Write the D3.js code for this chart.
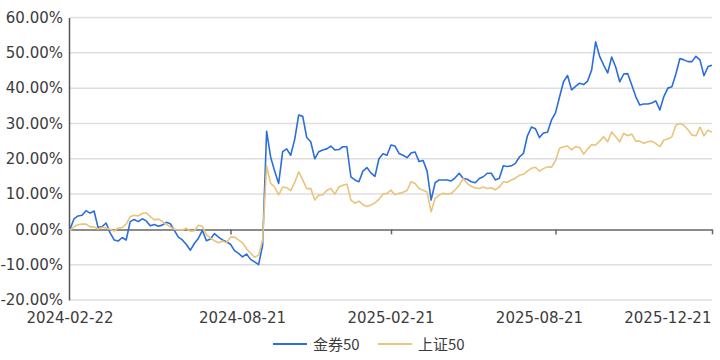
<!DOCTYPE html>
<html><head><meta charset="utf-8">
<script src="https://cdn.jsdelivr.net/npm/d3@7"></script>
<style>
html,body{margin:0;padding:0;background:#fff;}
svg text{font-family:"DejaVu Sans","Noto Sans CJK SC",sans-serif;}
</style></head>
<body><svg id="c" width="720" height="360"></svg>
<script>
const seriesNames = ["金券50", "上证50"];
const colors = ["#2c6ddd", "#e8c47c"];
const yTicks = [-20, -10, 0, 10, 20, 30, 40, 50, 60];
const xLabels = ["2024-02-22", "2024-08-21", "2025-02-21", "2025-08-21", "2025-12-21"];
const xLabelIdx = [0, 43, 80, 117, 149];
const xTickIdx = [40, 80, 121, 160];

const jinquan = [
0,3.0,3.8,4.0,5.3,4.6,5.2,0.5,0.8,1.8,-1.0,-3.0,-3.3,-2.3,-3.0,2.2,2.8,2.2,3.0,2.4,
1.0,1.4,0.9,1.2,2.0,1.6,-0.3,-2.2,-3.0,-4.3,-5.9,-4.0,-2.5,-0.3,-3.2,-2.7,-1.2,-2.2,-3.0,-3.5,
-4.2,-6.0,-6.8,-7.8,-7.0,-8.5,-9.2,-10.0,-4.5,27.8,20.5,16.5,13.0,22.0,22.8,21.0,25.5,32.4,32.0,26.0,
24.8,20.0,22.0,22.5,22.8,23.6,22.5,22.6,23.4,23.4,14.9,14.0,13.5,16.5,17.5,16.0,15.0,20.0,21.4,21.0,
23.9,23.6,21.5,21.0,20.3,21.6,21.9,19.2,19.5,16.5,8.3,13.2,14.0,14.0,14.0,13.7,14.6,15.9,14.4,14.2,
13.5,13.2,14.4,14.9,15.9,15.9,14.0,14.5,18.0,17.8,18.0,18.7,20.5,21.5,26.5,29.0,28.5,26.0,27.3,27.5,
31.0,33.0,37.5,41.8,43.6,39.5,40.5,41.4,41.0,42.0,45.1,53.1,49.0,46.5,44.3,48.8,46.0,41.8,44.0,44.1,
40.9,37.6,35.2,35.5,35.5,35.8,36.4,33.8,37.6,40.0,40.4,44.0,48.4,48.0,47.5,47.5,49.0,48.0,43.5,46.1,
46.5
];
const shangzheng = [
-0.3,0.8,1.3,1.5,1.5,0.7,0.7,0.1,0.6,0.4,0,-0.5,0.4,0.5,1.5,3.6,4.0,3.8,4.5,4.7,
3.6,2.7,2.9,2.3,1.4,0.7,0,-0.1,-0.2,0.3,-0.5,-0.4,1.2,0.8,-1.5,-2.5,-3.2,-3.8,-3.3,-3.8,
-2.2,-2.2,-3.0,-3.8,-5.5,-6.7,-7.9,-7.3,-3.0,18.0,13.0,12.0,9.8,12.0,11.8,11.0,13.3,16.3,14.0,11.5,
11.6,8.3,9.7,9.8,11.0,11.6,10.0,12.0,12.5,12.8,8.3,7.4,8.0,7.0,6.5,6.9,7.5,8.5,10.0,10.2,
11.1,9.8,10.2,10.5,11.0,13.5,13.0,11.6,11.1,10.6,5.0,8.8,9.7,10.2,10.0,10.2,11.2,12.5,14.4,13.0,
12.2,11.7,11.6,12.0,11.6,11.8,11.2,12.0,13.5,13.3,14.0,14.5,15.3,15.6,16.5,17.3,17.6,16.5,17.2,17.7,
17.6,19.5,23.0,23.4,23.6,22.5,23.4,23.2,21.3,22.8,24.0,23.9,25.0,26.2,24.8,27.6,26.2,24.8,27.2,26.5,
27.0,25.0,25.0,24.4,24.8,25.0,24.3,23.4,25.3,25.6,26.2,29.5,30.0,29.5,28.2,26.7,26.5,29.0,26.5,28.1,
27.5
];
const allSeries = [jinquan, shangzheng];

const svg = d3.select("#c");
const N = jinquan.length;
const x = d3.scaleLinear().domain([0, N - 1]).range([70, 712]);
const y = d3.scaleLinear().domain([-20, 60]).range([300, 17.5]);

// grid
svg.append("g").selectAll("line").data(yTicks.filter(d => d !== 0)).join("line")
  .attr("x1", x(0)).attr("x2", x(N - 1))
  .attr("y1", d => y(d)).attr("y2", d => y(d))
  .attr("stroke", "#dedede").attr("stroke-width", 1.5);

// y axis
const yAxis = d3.axisLeft(y).tickValues(yTicks).tickSize(0).tickPadding(6)
  .tickFormat(d => d.toFixed(2) + "%");
const ga = svg.append("g").attr("transform", `translate(${x(0) - 1},0)`).call(yAxis);
ga.select(".domain").attr("stroke", "#555").attr("stroke-width", 1.5);
ga.selectAll("text").attr("fill", "#3c3c3c").style("font-size", "15px");

// zero axis line with ticks
const xAxis = d3.axisBottom(x).tickValues(xTickIdx).tickSize(5).tickSizeOuter(0).tickFormat("");
const gx = svg.append("g").attr("transform", `translate(0,${y(0)})`).call(xAxis);
gx.select(".domain").attr("stroke", "#666").attr("stroke-width", 1.5);
gx.selectAll(".tick line").attr("stroke", "#666").attr("stroke-width", 1.5);

// x labels
svg.append("g").selectAll("text").data(xLabels).join("text")
  .attr("x", (d, i) => x(xLabelIdx[i])).attr("y", 323)
  .attr("text-anchor", "middle").attr("fill", "#3c3c3c").style("font-size", "15px")
  .text(d => d);

// lines
const line = d3.line().x((d, i) => x(i)).y(d => y(d));
svg.append("g").selectAll("path").data(allSeries).join("path")
  .attr("d", d => line(d)).attr("fill", "none")
  .attr("stroke", (d, i) => colors[i]).attr("stroke-width", 1.6)
  .attr("stroke-linejoin", "round");

// legend
const legendX = [273, 378];
const lg = svg.append("g").selectAll("g").data(seriesNames).join("g")
  .attr("transform", (d, i) => `translate(${legendX[i]},344)`);
lg.append("line").attr("x1", 0).attr("x2", 34).attr("y1", 0).attr("y2", 0)
  .attr("stroke", (d, i) => colors[i]).attr("stroke-width", 2);
lg.append("text").attr("x", 40).attr("y", 5.5).attr("fill", "#3c3c3c")
  .style("font-size", "15px").style("font-family", "'Noto Sans CJK SC',sans-serif").text(d => d);
</script></body></html>
